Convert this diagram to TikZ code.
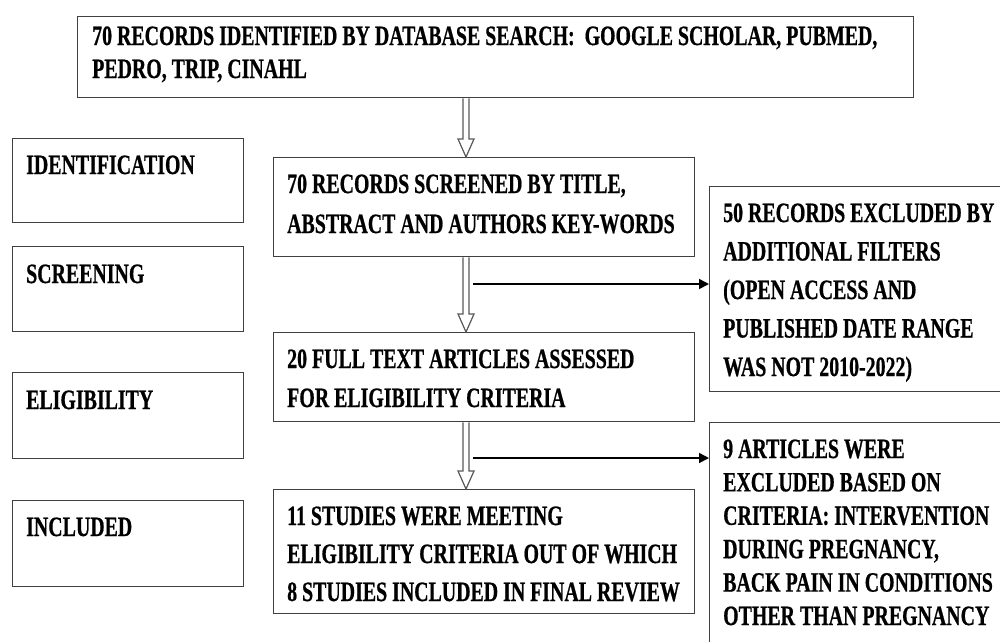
\documentclass[tikz,border=0pt]{standalone}
\usepackage{fontspec}
\usetikzlibrary{arrows.meta,calc}
\newfontfamily\boxfont[FakeStretch=0.71,FakeBold=0.6]{Liberation Serif}
\newcommand\hollowarrow[2]{%
  \draw[hollowline] let \p1=(#1), \p2=(#2) in
    (\x1-3pt,\y1) -- (\x1-3pt,\y2+18pt) -- (\x1-8pt,\y2+18pt) -- (\x1,\y2)
    -- (\x1+8pt,\y2+18pt) -- (\x1+3pt,\y2+18pt) -- (\x1+3pt,\y1);}
\tikzset{
  box/.style={draw=black!75, line width=1.4pt, fill=white, rectangle, inner sep=0pt, anchor=north west},
  txt/.style={font=\boxfont\bfseries\fontsize{28}{#1}\selectfont, align=left, anchor=base west, inner sep=0pt, text=black},
  txt/.default=38,
  hollowline/.style={draw=black!65, line width=1.2pt, fill=white, line join=miter},
  exarrow/.style={draw=black, line width=1.6pt, -{Triangle[length=10pt,width=10pt]}}
}
\begin{document}
\begin{tikzpicture}[x=1pt,y=-1pt]
\useasboundingbox (0,0) rectangle (1000,641);
\clip (0,0) rectangle (1000,641);
% boxes
\node[box, minimum width=836pt, minimum height=81pt] (top) at (77,16) {};
\node[box, minimum width=421pt, minimum height=99pt] (scr) at (273,157) {};
\node[box, minimum width=421pt, minimum height=89pt] (full) at (273,332) {};
\node[box, minimum width=421pt, minimum height=124pt] (stud) at (273,489) {};
\node[box, minimum width=231pt, minimum height=84pt] (l1) at (12,138) {};
\node[box, minimum width=231pt, minimum height=85pt] (l2) at (12,246) {};
\node[box, minimum width=231pt, minimum height=86pt] (l3) at (12,372) {};
\node[box, minimum width=231pt, minimum height=86pt] (l4) at (12,500) {};
\node[box, minimum width=296pt, minimum height=205pt] (r1) at (709,186) {};
\node[box, minimum width=296pt, minimum height=238pt] (r2) at (709,422) {};
% texts (anchored at the baseline of the last line)
\node[txt=33] (toptxt) at (92,78) {70 RECORDS IDENTIFIED BY DATABASE SEARCH:\ \ GOOGLE SCHOLAR, PUBMED,\\PEDRO, TRIP, CINAHL};
\node[txt=40] (scrtxt) at (287,233) {70 RECORDS SCREENED BY TITLE,\\ABSTRACT AND AUTHORS KEY-WORDS};
\node[txt=39] (fulltxt) at (287,407) {20 FULL TEXT ARTICLES ASSESSED\\FOR ELIGIBILITY CRITERIA};
\node[txt=38] (studtxt) at (287,601) {11 STUDIES WERE MEETING\\ELIGIBILITY CRITERIA OUT OF WHICH\\8 STUDIES INCLUDED IN FINAL REVIEW};
\node[txt] (l1txt) at (26,174) {IDENTIFICATION};
\node[txt] (l2txt) at (26,283) {SCREENING};
\node[txt] (l3txt) at (26,409) {ELIGIBILITY};
\node[txt] (l4txt) at (26,536) {INCLUDED};
\node[txt=38.5] (r1txt) at (723,376) {50 RECORDS EXCLUDED BY\\ADDITIONAL FILTERS\\(OPEN ACCESS AND\\PUBLISHED DATE RANGE\\WAS NOT 2010-2022)};
\node[txt=33.4] (r2txt) at (723,625) {9 ARTICLES WERE\\EXCLUDED BASED ON\\CRITERIA: INTERVENTION\\DURING PREGNANCY,\\BACK PAIN IN CONDITIONS\\OTHER THAN PREGNANCY};
% connectors
\coordinate (ax) at (466,0);
\hollowarrow{top.south -| ax}{scr.north -| ax}
\hollowarrow{scr.south -| ax}{full.north -| ax}
\hollowarrow{full.south -| ax}{stud.north -| ax}
\coordinate (e1) at (473,284);
\coordinate (e2) at (473,458);
\draw[exarrow] (e1) -- (r1.west |- e1);
\draw[exarrow] (e2) -- (r2.west |- e2);
\end{tikzpicture}
\end{document}
